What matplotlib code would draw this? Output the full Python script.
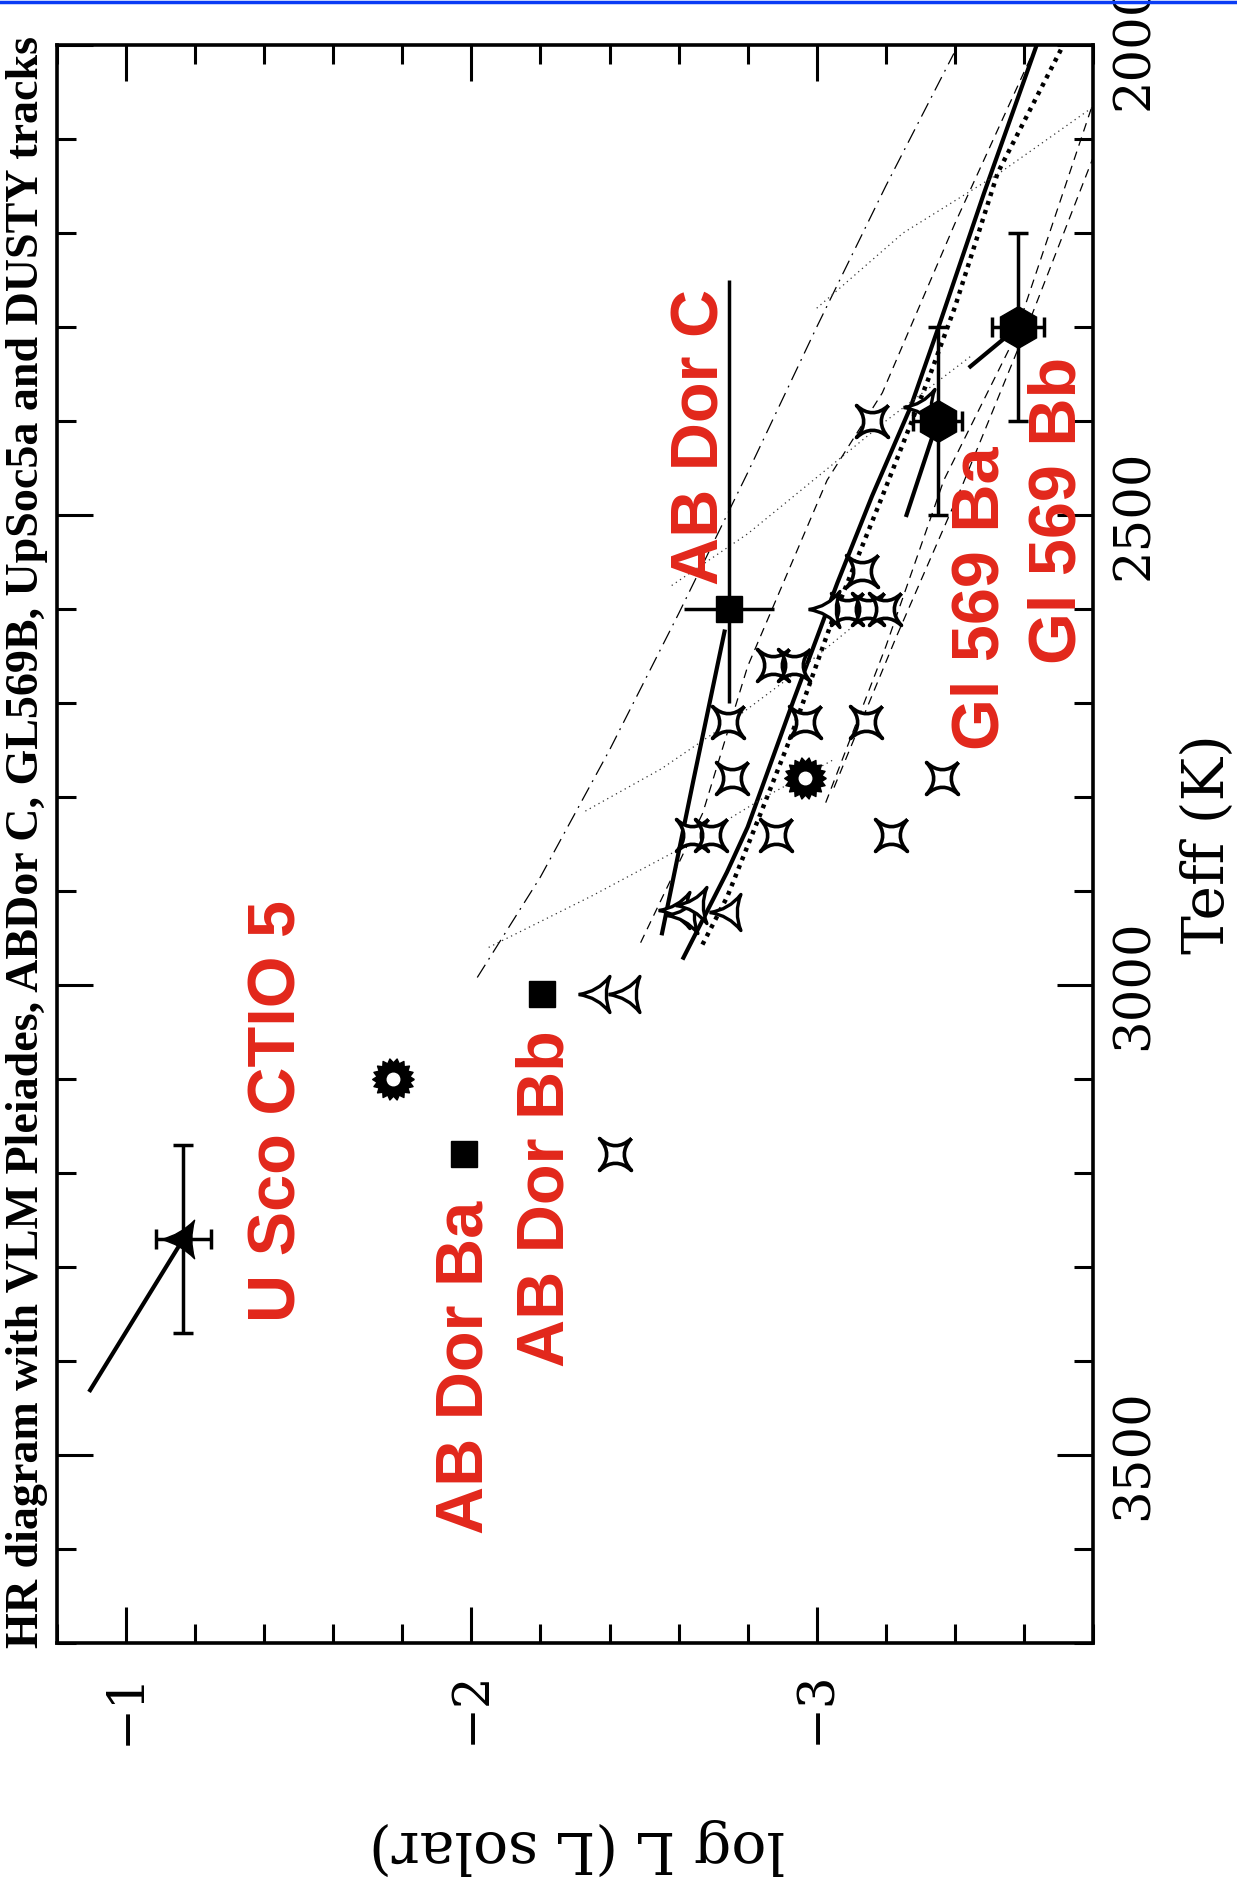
import numpy as np
import matplotlib
matplotlib.use('Agg')
import matplotlib.pyplot as plt
from matplotlib.path import Path
from matplotlib.lines import Line2D
from matplotlib.ticker import MultipleLocator

# ---------------- data: (log L, Teff) ----------------
# U Sco CTIO 5
usco_logl = [-1.166]
usco_teff = [3270]
usco_xerr = [0.08]
usco_yerr = [100]
usco_track_logl = [-1.166, -0.896]
usco_track_teff = [3270, 3431]

# AB Dor Ba, Bb
abdorb_logl = [-1.98, -2.205]
abdorb_teff = [3180, 3010]

# AB Dor C
abdorc_logl = [-2.745]
abdorc_teff = [2600]
abdorc_xerr = [0.13]
abdorc_yerr = [[350], [100]]
abdorc_track_logl = [-2.733, -2.643, -2.552]
abdorc_track_teff = [2624, 2782, 2945]

# Gl 569 Ba, Bb
gl569_logl = [-3.35, -3.583]
gl569_teff = [2400, 2300]
gl569_xerr = [0.07, 0.075]
gl569_yerr = [100, 100]
gl569ba_track_logl = [-3.35, -3.26]
gl569ba_track_teff = [2400, 2500]
gl569bb_track_logl = [-3.583, -3.445]
gl569bb_track_teff = [2300, 2342]

# VLM Pleiades (4-point stars)
star_logl = [-2.417, -3.13, -3.087, -3.148, -3.198, -2.874, -2.935, -2.743, -2.967,
             -3.143, -2.755, -3.364, -2.64, -2.695, -2.882, -3.215, -3.16]
star_teff = [3180, 2560, 2600, 2600, 2600, 2660, 2660, 2720, 2720,
             2720, 2780, 2780, 2840, 2840, 2840, 2840, 2400]

# UpSco (open three-cusp symbols)
tri_logl = [-2.369, -2.456, -2.60, -2.625, -2.65, -2.75, -3.035, -3.31]
tri_teff = [3010, 3010, 2920, 2925, 2915, 2922, 2600, 2385]

# sun symbols
sun_logl = [-1.773, -2.966]
sun_teff = [3100, 2780]

# DUSTY isochrones
iso_solid_logl = [-2.614, -2.74, -2.80, -2.933, -3.06, -3.16, -3.272, -3.35, -3.485, -3.635]
iso_solid_teff = [2971, 2880, 2832, 2697, 2572, 2480, 2385, 2303, 2157, 2002]
iso_dot_logl = [-2.669, -2.741, -2.838, -2.925, -3.045, -3.19, -3.33, -3.40, -3.524, -3.707]
iso_dot_teff = [2957, 2906, 2817, 2736, 2612, 2480, 2349, 2279, 2136, 2005]
iso_dashdot_logl = [-2.017, -2.2, -2.4, -2.6, -2.8, -3.0, -3.2, -3.397]
iso_dashdot_teff = [2992, 2885, 2750, 2605, 2455, 2300, 2150, 2009]
iso_dash1_logl = [-2.49, -2.67, -2.80, -3.03, -3.19, -3.40, -3.62]
iso_dash1_teff = [2955, 2817, 2661, 2463, 2370, 2190, 2013]
iso_dash2_logl = [-3.026, -3.2, -3.368, -3.57, -3.80]
iso_dash2_teff = [2806, 2640, 2463, 2314, 2062]
iso_dash3_logl = [-3.05, -3.23, -3.42, -3.62, -3.80]
iso_dash3_teff = [2790, 2630, 2470, 2290, 2120]

# DUSTY mass tracks (thin dotted)
tracks_logl = [[-2.05, -2.35, -2.6, -2.85, -3.05],
               [-2.33, -2.55, -2.75, -2.95, -3.1],
               [-2.58, -2.80, -3.0, -3.2, -3.45],
               [-3.0, -3.25, -3.53, -3.8]]
tracks_teff = [[2960, 2905, 2856, 2800, 2760],
               [2815, 2770, 2720, 2665, 2620],
               [2575, 2520, 2460, 2400, 2330],
               [2280, 2200, 2136, 2066]]


def cusp_marker(n, rot, depth):
    # closed shape with n cusps and concave sides
    ang = rot + 2 * np.pi * np.arange(n + 1) / n
    pts = np.column_stack([np.cos(ang), np.sin(ang)])
    verts = [pts[0]]
    codes = [Path.MOVETO]
    for k in range(n):
        verts += [depth * (pts[k] + pts[k + 1]) / 2, pts[k + 1]]
        codes += [Path.CURVE3, Path.CURVE3]
    return Path(verts, codes)


star_path = cusp_marker(4, np.pi / 4, 0.1)
delt_path = cusp_marker(3, np.pi, 0.3)
usco_path = cusp_marker(3, np.pi, 0.5)
nt = 18
ang = np.linspace(0, 2 * np.pi, 2 * nt + 1)
rad = np.where(np.arange(2 * nt + 1) % 2 == 0, 1.0, 0.8)
sun_path = Path(np.column_stack([rad * np.cos(ang), rad * np.sin(ang)]))

red = '#e2271b'

plt.rcParams['font.family'] = 'DejaVu Serif'
fig = plt.figure(figsize=(12.37, 18.95), dpi=100)
ax = fig.add_axes([57 / 1237, 1 - 1643 / 1895, (1093 - 57) / 1237, (1643 - 45) / 1895])

# isochrones
ax.plot(iso_solid_logl, iso_solid_teff, color='black', lw=3)
ax.plot(iso_dot_logl, iso_dot_teff, color='black', lw=3.2, linestyle=(0, (0.9, 1.2)))
ax.plot(iso_dashdot_logl, iso_dashdot_teff, color='black', lw=0.9, linestyle=(0, (12, 5, 1.5, 5)))
for xs, ys in [(iso_dash1_logl, iso_dash1_teff), (iso_dash2_logl, iso_dash2_teff),
               (iso_dash3_logl, iso_dash3_teff)]:
    ax.plot(xs, ys, color='black', lw=0.9, linestyle=(0, (7, 5)))
for xs, ys in zip(tracks_logl, tracks_teff):
    ax.plot(xs, ys, color='#333333', lw=0.9, linestyle=(0, (1, 3)))

# short tracks attached to objects
ax.plot(usco_track_logl, usco_track_teff, color='black', lw=3)
ax.plot(abdorc_track_logl, abdorc_track_teff, color='black', lw=3)
ax.plot(gl569ba_track_logl, gl569ba_track_teff, color='black', lw=3)
ax.plot(gl569bb_track_logl, gl569bb_track_teff, color='black', lw=3)

# symbols
ax.plot(star_logl, star_teff, ls='none', marker=star_path, ms=23, mfc='white', mec='black', mew=2.6)
ax.plot(tri_logl, tri_teff, ls='none', marker=delt_path, ms=30, mfc='white', mec='black', mew=2.4)
ax.plot(sun_logl, sun_teff, ls='none', marker=sun_path, ms=30, mfc='black', mec='black', mew=1)
ax.plot(sun_logl, sun_teff, ls='none', marker='o', ms=9, mfc='white', mec='white')

# objects with error bars
ax.errorbar(usco_logl, usco_teff, xerr=usco_xerr, yerr=usco_yerr, fmt='none', ecolor='black',
            elinewidth=2.5, capsize=7, capthick=2.5)
ax.plot(usco_logl, usco_teff, ls='none', marker=usco_path, ms=32, color='black')
ax.errorbar(abdorc_logl, abdorc_teff, xerr=abdorc_xerr, yerr=abdorc_yerr, fmt='none',
            ecolor='black', elinewidth=2.5, capsize=0)
ax.plot(abdorc_logl, abdorc_teff, ls='none', marker='s', ms=19, color='black')
ax.plot(abdorb_logl, abdorb_teff, ls='none', marker='s', ms=19, color='black')
ax.errorbar(gl569_logl, gl569_teff, xerr=gl569_xerr, yerr=gl569_yerr, fmt='none', ecolor='black',
            elinewidth=2.5, capsize=7, capthick=2.5)
ax.plot(gl569_logl, gl569_teff, ls='none', marker='h', ms=30, color='black')

# red labels
lab_font = dict(family='Liberation Sans', fontweight='bold', fontsize=48, color=red,
                rotation=90, ha='center', va='center')
ax.text(-1.44, 3134, 'U Sco CTIO 5', **lab_font)
ax.text(-1.983, 3407, 'AB Dor Ba', **lab_font)
ax.text(-2.217, 3227, 'AB Dor Bb', **lab_font)
ax.text(-2.666, 2417, 'AB Dor C', **lab_font)
ax.text(-3.478, 2588, 'Gl 569 Ba', **lab_font)
ax.text(-3.699, 2495, 'Gl 569 Bb', **lab_font)

# axes
ax.set_xlim(-0.8, -3.8)
ax.set_ylim(3700, 2000)
ax.xaxis.set_major_locator(MultipleLocator(1))
ax.xaxis.set_minor_locator(MultipleLocator(0.2))
ax.yaxis.set_major_locator(MultipleLocator(500))
ax.yaxis.set_minor_locator(MultipleLocator(100))
ax.tick_params(which='both', direction='in', top=True, bottom=True, left=True, right=True,
               labelleft=False, labelright=True, width=2.2)
ax.tick_params(which='major', length=26)
ax.tick_params(which='minor', length=14)
ax.tick_params(axis='x', labelrotation=90, labelsize=36, pad=20)
ax.tick_params(axis='y', labelrotation=90, labelsize=37, pad=12)
for lbl in ax.get_yticklabels():
    lbl.set_va('center')
for sp in ax.spines.values():
    sp.set_linewidth(2.6)

fig.text(577 / 1237, 1 - 1847 / 1895, 'log L (L solar)', rotation=180, fontsize=42,
         ha='center', va='center')
fig.text(1208 / 1237, 1 - 844 / 1895, 'Teff (K)', rotation=90, fontsize=42,
         ha='center', va='center')
title = fig.text(27 / 1237, 1 - 842 / 1895,
                 'HR diagram with VLM Pleiades, ABDor C, GL569B, UpSoc5a and DUSTY tracks',
                 rotation=90, fontsize=28, fontweight='bold', family='Liberation Serif',
                 ha='center', va='center')
fig.canvas.draw()
h = title.get_window_extent().height
title.set_fontsize(28 * 1613 / h)

fig.add_artist(Line2D([0, 1], [1 - 1.5 / 1895, 1 - 1.5 / 1895], color='#0a3cf5', lw=2.5,
                      transform=fig.transFigure))

fig.savefig('out.png', dpi=100, facecolor='white')
